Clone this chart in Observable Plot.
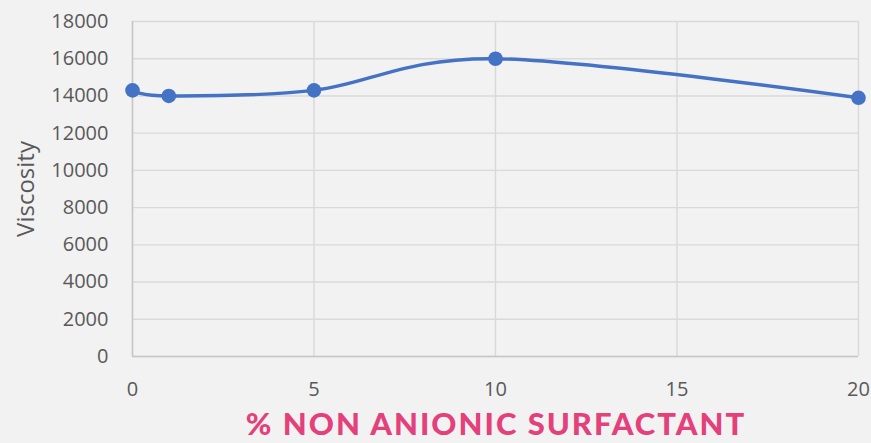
<!DOCTYPE html>
<html><head><meta charset="utf-8">
<script src="https://cdn.jsdelivr.net/npm/d3@7"></script>
<script src="https://cdn.jsdelivr.net/npm/@observablehq/plot@0.6"></script>
<style>
html,body{margin:0;padding:0;background:#f2f2f2;}
#wrap{position:relative;width:871px;height:443px;overflow:hidden;background:#f2f2f2;}
#title{position:absolute;left:0;top:405px;width:992px;text-align:center;font-family:Lato,sans-serif;font-weight:900;font-size:31px;letter-spacing:2px;line-height:1.2;color:#e4407b;white-space:nowrap;}
</style></head><body><div id="wrap"><div id="chart"></div><div id="title"></div></div>
<script>
const surfactantPct = [0, 1, 5, 10, 20];
const viscosity = [14300, 14000, 14300, 16000, 13900];
const xTicks = [0, 5, 10, 15, 20];
const yTicks = [0, 2000, 4000, 6000, 8000, 10000, 12000, 14000, 16000, 18000];
const yLabel = "Viscosity";
const xLabel = "% NON ANIONIC SURFACTANT";

const data = surfactantPct.map((x, i) => ({x, y: viscosity[i]}));

const chart = Plot.plot({
  width: 871,
  height: 405,
  marginLeft: 132,
  marginRight: 13,
  marginTop: 21,
  marginBottom: 49,
  style: {background: "#f2f2f2", fontFamily: "'Open Sans', sans-serif", fontSize: "20px", color: "#595959"},
  x: {domain: [0, 20]},
  y: {domain: [0, 18000]},
  marks: [
    Plot.gridY(yTicks, {stroke: "#d9d9d9", strokeOpacity: 1, strokeWidth: 1.4}),
    Plot.gridX(xTicks, {stroke: "#d9d9d9", strokeOpacity: 1, strokeWidth: 1.4}),
    Plot.ruleY([0], {stroke: "#c6c6c6", strokeWidth: 1.5}),
    Plot.ruleX([0], {stroke: "#c6c6c6", strokeWidth: 1.5}),
    Plot.axisX(xTicks, {tickSize: 0, tickPadding: 25, tickFormat: d => String(d), fill: "#595959", fontSize: 20, label: null}),
    Plot.axisY(yTicks, {tickSize: 0, tickPadding: 24, tickFormat: d => String(d), fill: "#595959", fontSize: 20, label: null}),
    Plot.text([yLabel], {text: d => d, frameAnchor: "left", textAnchor: "middle", lineAnchor: "middle", rotate: -90, dx: -106, fontSize: 24, fill: "#595959"}),
    Plot.line(data, {x: "x", y: "y", curve: "cardinal", stroke: "#4472c4", strokeWidth: 3.4}),
    Plot.dot(data, {x: "x", y: "y", r: 7.3, fill: "#4472c4", stroke: "none"})
  ]
});
document.getElementById("chart").appendChild(chart);
document.getElementById("title").textContent = xLabel;
</script></body></html>
